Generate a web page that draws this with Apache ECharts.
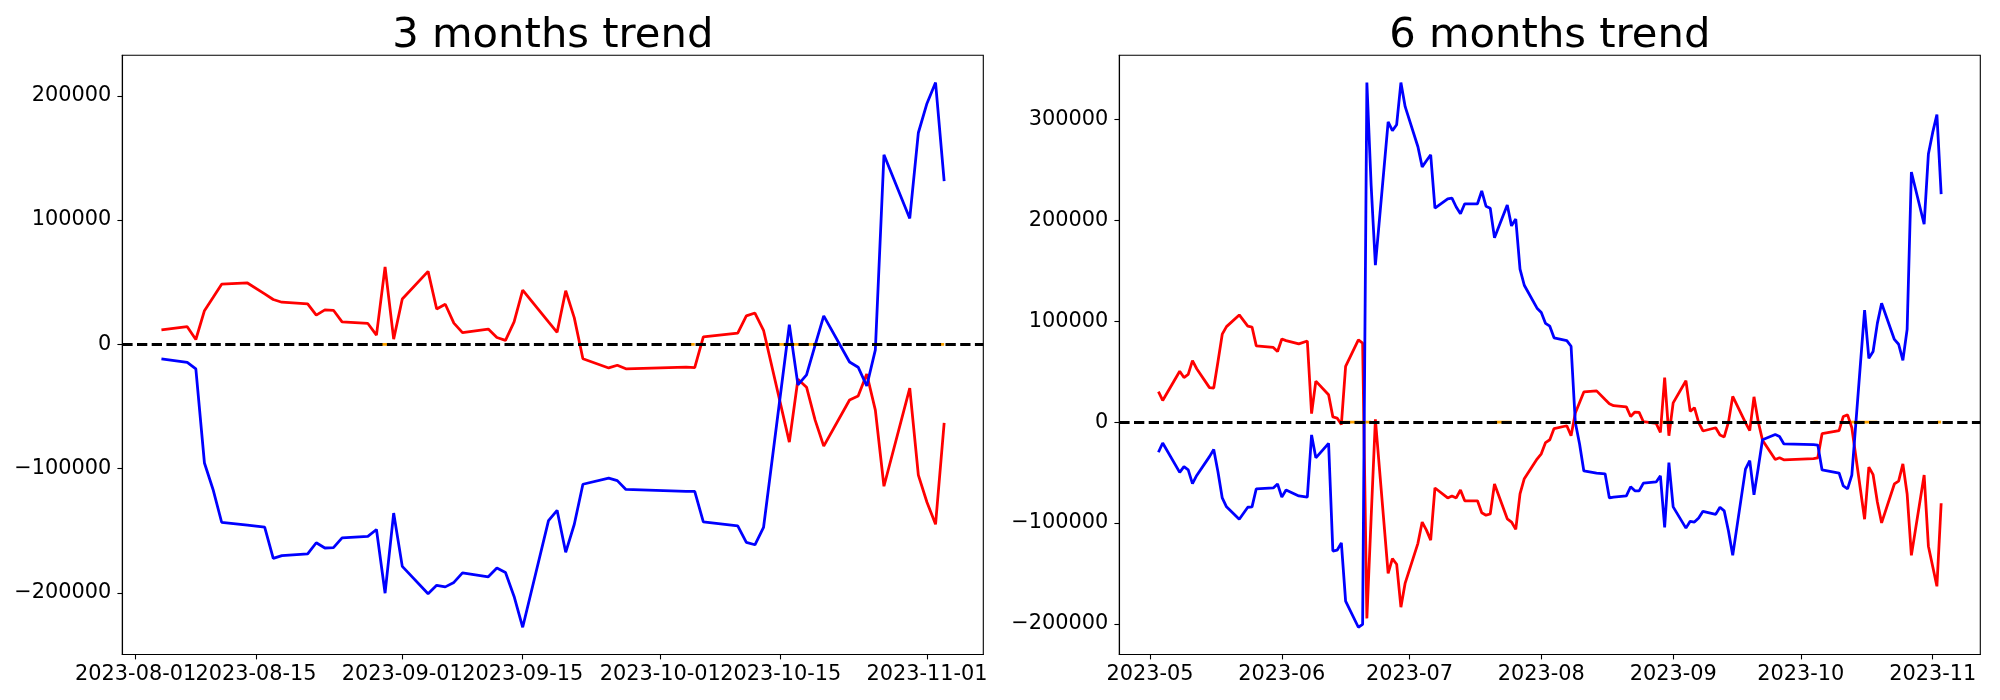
<!DOCTYPE html>
<html>
<head>
<meta charset="utf-8">
<script src="https://cdn.jsdelivr.net/npm/echarts@6/dist/echarts.min.js"></script>
<style>
  html, body { margin: 0; padding: 0; background: #fff; }
  #chart { width: 2000px; height: 700px; }
</style>
</head>
<body>
<div id="chart"></div>
<script>
const N = null;

// ---------- 3 months trend ----------
const dates3 = ['2023-08-04','2023-08-07','2023-08-08','2023-08-09','2023-08-10','2023-08-11','2023-08-14','2023-08-16','2023-08-17','2023-08-18','2023-08-21','2023-08-22','2023-08-23','2023-08-24','2023-08-25','2023-08-28','2023-08-29','2023-08-30','2023-08-31',
  '2023-09-01','2023-09-04','2023-09-05','2023-09-06','2023-09-07','2023-09-08','2023-09-11','2023-09-12','2023-09-13','2023-09-14','2023-09-15','2023-09-18','2023-09-19','2023-09-20','2023-09-21','2023-09-22','2023-09-25','2023-09-26','2023-09-27',
  '2023-10-04','2023-10-05','2023-10-06','2023-10-10','2023-10-11','2023-10-12','2023-10-13','2023-10-16','2023-10-17','2023-10-18','2023-10-19','2023-10-20','2023-10-23','2023-10-24','2023-10-25','2023-10-26','2023-10-27','2023-10-30','2023-10-31',
  '2023-11-01','2023-11-02','2023-11-03'];
const red3 = [11600,14200,3900,27100,37700,48400,49400,40600,36100,33900,32600,23500,27700,27400,18100,16800,7400,62300,4200,
  36500,58700,28400,32300,17100,9400,12300,5500,3200,18100,43600,18100,9700,43200,21300,-11600,-19000,-16800,-19700,
  -18400,-18700,6100,9000,22900,25200,11300,-78700,-28100,-34500,-61000,-81900,-44800,-41600,-23900,-52900,-114200,-35200,-105200,
  -127100,-144800,-63200];
const blue3 = [-11600,-14500,-19700,-95500,-116800,-143200,-145500,-147100,-172300,-170000,-168700,-159700,-163900,-163600,-155800,-154500,-149000,-200300,-135800,
  -178700,-200700,-193900,-195200,-191600,-183900,-187100,-180000,-183600,-202900,-227700,-141900,-133600,-167400,-144800,-112600,-107700,-109700,-116800,
  -118400,-118400,-142900,-146100,-159400,-161300,-147400,15800,-32600,-24500,-600,22900,-14200,-18400,-33500,-4500,152600,101300,170300,
  193900,210700,131300];
const orange3 = [N,N,N,N,N,N,N,N,N,N,N,N,N,N,N,N,0,0,0,
  N,N,N,N,N,N,N,N,N,N,N,N,N,N,N,N,N,N,N,
  0,0,N,N,N,0,0,0,0,0,0,N,N,N,N,N,N,N,N,
  N,0,0];
const xTicks3 = ['2023-08-01','2023-08-15','2023-09-01','2023-09-15','2023-10-01','2023-10-15','2023-11-01'];
const yTicks3 = [-200000,-100000,0,100000,200000];

// ---------- 6 months trend ----------
const dates6 = ['2023-05-03','2023-05-04','2023-05-08','2023-05-09','2023-05-10','2023-05-11','2023-05-12','2023-05-15','2023-05-16','2023-05-17','2023-05-18','2023-05-19','2023-05-22','2023-05-24','2023-05-25','2023-05-26','2023-05-30','2023-05-31',
  '2023-06-01','2023-06-02','2023-06-05','2023-06-07','2023-06-08','2023-06-09','2023-06-12','2023-06-13','2023-06-14','2023-06-15','2023-06-16','2023-06-19','2023-06-20','2023-06-21','2023-06-22','2023-06-23','2023-06-26','2023-06-27','2023-06-28','2023-06-29','2023-06-30',
  '2023-07-03','2023-07-04','2023-07-05','2023-07-06','2023-07-07','2023-07-10','2023-07-11','2023-07-12','2023-07-13','2023-07-14','2023-07-17','2023-07-18','2023-07-19','2023-07-20','2023-07-21','2023-07-24','2023-07-25','2023-07-26','2023-07-27','2023-07-28','2023-07-31',
  '2023-08-01','2023-08-02','2023-08-03','2023-08-04','2023-08-07','2023-08-08','2023-08-09','2023-08-10','2023-08-11','2023-08-14','2023-08-16','2023-08-17','2023-08-18','2023-08-21','2023-08-22','2023-08-23','2023-08-24','2023-08-25','2023-08-28','2023-08-29','2023-08-30','2023-08-31',
  '2023-09-01','2023-09-04','2023-09-05','2023-09-06','2023-09-07','2023-09-08','2023-09-11','2023-09-12','2023-09-13','2023-09-14','2023-09-15','2023-09-18','2023-09-19','2023-09-20','2023-09-21','2023-09-22','2023-09-25','2023-09-26','2023-09-27',
  '2023-10-04','2023-10-05','2023-10-06','2023-10-10','2023-10-11','2023-10-12','2023-10-13','2023-10-16','2023-10-17','2023-10-18','2023-10-19','2023-10-20','2023-10-23','2023-10-24','2023-10-25','2023-10-26','2023-10-27','2023-10-30','2023-10-31',
  '2023-11-01','2023-11-02','2023-11-03'];
const red6 = [30200,21500,50500,44200,47400,60900,52900,34200,33800,60100,87200,94700,106300,95100,94300,75600,74000,70000,
  82400,80800,77600,80400,8400,40600,27100,5200,4000,-2400,55300,81600,78400,-194600,-95100,2800,-150000,-135300,-140900,-183500,-159600,
  -120200,-99100,-107100,-117000,-65300,-75200,-73200,-75200,-67300,-78000,-78000,-89900,-92300,-91100,-61300,-95900,-99100,-106300,-71200,-56100,-36600,
  -31400,-20300,-17500,-6400,-3600,-13500,9000,19500,29900,31000,22500,18300,16300,15100,5600,10000,9600,400,-1200,-10300,44200,-13500,
  19100,41000,10700,14300,-400,-8800,-5600,-12700,-14700,0,25500,-500,-8400,25100,400,-17900,-37000,-35400,-37400,
  -36200,-35400,-11500,-8400,5600,7200,-5600,-96300,-44600,-52100,-79200,-99900,-61300,-58500,-41400,-71200,-132100,-52500,-123000,
  -142900,-162800,-80400];
const blue6 = [-29900,-20700,-49800,-44200,-47400,-60900,-52900,-34200,-27100,-49400,-75200,-84000,-96300,-84400,-84000,-66100,-65300,-61300,
  -74400,-67300,-73200,-74400,-12700,-35400,-21100,-127800,-127000,-119800,-177500,-203400,-200600,336700,235000,155600,297700,289000,294900,336700,312800,
  273000,253100,259100,265100,212100,221300,222100,213300,206600,216500,216500,229200,214100,212100,182700,215300,194600,201400,151600,135700,113000,
  108700,97900,95100,83600,80800,75200,-400,-21700,-48400,-50500,-51300,-75200,-74400,-73200,-64100,-68100,-68100,-60500,-59300,-53300,-104300,-40200,
  -84000,-105100,-98300,-99100,-95100,-88400,-91500,-84400,-88000,-108000,-132100,-46600,-38200,-72000,-45400,-17500,-12300,-14300,-21500,
  -22300,-22700,-47400,-50500,-63300,-66100,-52500,111000,63300,70000,97900,117800,82000,77200,61300,91900,248000,196200,265900,
  287000,304900,226100];
const orange6 = [N,N,N,N,N,N,N,N,N,N,N,N,N,N,N,N,N,N,
  N,N,N,N,N,N,N,N,N,0,0,0,0,0,0,N,0,0,N,N,N,
  N,N,N,N,N,N,N,N,N,N,N,N,N,N,0,0,0,N,N,N,N,
  N,N,N,N,N,N,N,N,N,N,N,N,N,N,N,N,N,N,N,0,0,0,
  N,N,N,N,N,N,N,N,N,N,N,N,N,N,N,N,N,N,N,
  0,0,N,N,N,0,0,0,0,0,0,N,N,N,N,N,N,N,N,
  N,0,0];
const xTicks6 = ['2023-05-01','2023-06-01','2023-07-01','2023-08-01','2023-09-01','2023-10-01','2023-11-01'];
const yTicks6 = [-200000,-100000,0,100000,200000,300000];

const titles = ['3 months trend', '6 months trend'];

// ---------- helpers ----------
function ts(s) { const p = s.split('-').map(Number); return new Date(p[0], p[1] - 1, p[2]).getTime(); }
function pad2(n) { return (n < 10 ? '0' : '') + n; }
function fmtDay(v) { const d = new Date(v); return d.getFullYear() + '-' + pad2(d.getMonth() + 1) + '-' + pad2(d.getDate()); }
function fmtMonth(v) { const d = new Date(v); return d.getFullYear() + '-' + pad2(d.getMonth() + 1); }
function fmtNum(v) { return String(Math.round(v)).replace('-', '\u2212'); }

const FONT = 'DejaVu Sans';
const TICK_FS = 20.83;
const LW = 2.78;
const PLOT_TOP = 55.3, PLOT_H = 599.2;
const grids = [
  { left: 122.3, top: PLOT_TOP, width: 861.0, height: PLOT_H },
  { left: 1119.3, top: PLOT_TOP, width: 861.0, height: PLOT_H }
];

function xRange(dates) {
  const a = ts(dates[0]), b = ts(dates[dates.length - 1]), m = (b - a) * 0.05;
  return [a - m, b + m];
}
function yRange(r, b) {
  const all = r.concat(b, [0]);
  const lo = Math.min.apply(null, all), hi = Math.max.apply(null, all), m = (hi - lo) * 0.05;
  return [lo - m, hi + m];
}

const panels = [
  { dates: dates3, red: red3, blue: blue3, orange: orange3, xt: xTicks3, yt: yTicks3, fmt: fmtDay },
  { dates: dates6, red: red6, blue: blue6, orange: orange6, xt: xTicks6, yt: yTicks6, fmt: fmtMonth }
];

const option = {
  backgroundColor: '#ffffff',
  animation: false,
  title: [],
  grid: [],
  xAxis: [],
  yAxis: [],
  series: []
};

const labelStyle = { fontFamily: FONT, fontSize: TICK_FS, color: '#000' };
const extraXAxes = [];

panels.forEach(function (p, i) {
  const g = grids[i];
  option.grid.push({
    left: g.left, top: g.top, width: g.width, height: g.height,
    show: true, borderColor: '#000', borderWidth: 1.1, backgroundColor: 'transparent'
  });
  option.title.push({
    text: titles[i],
    left: g.left + g.width / 2, top: 15, padding: 0,
    textAlign: 'center',
    textStyle: { fontFamily: FONT, fontSize: 41.7, fontWeight: 'normal', color: '#000' }
  });
  const xr = xRange(p.dates), yr = yRange(p.red, p.blue);
  const xtv = p.xt.map(ts);
  // main x axis: line, all ticks, labels except the first one
  option.xAxis.push({
    type: 'value', gridIndex: i, min: xr[0], max: xr[1], scale: true, position: 'bottom',
    axisLine: { show: true, onZero: false, lineStyle: { color: '#000', width: 1.1 } },
    axisTick: { show: true, customValues: xtv, length: 4.9, lineStyle: { color: '#000', width: 1.1 } },
    axisLabel: Object.assign({ show: true, customValues: xtv.slice(1), formatter: p.fmt, margin: 10,
      hideOverlap: false }, labelStyle),
    splitLine: { show: false }
  });
  // helper x axis carrying only the first tick label (so overlapping labels are all kept)
  extraXAxes.push({
    type: 'value', gridIndex: i, min: xr[0], max: xr[1], scale: true, position: 'bottom', offset: 0,
    axisLine: { show: false, onZero: false },
    axisTick: { show: false },
    axisLabel: Object.assign({ show: true, customValues: xtv.slice(0, 1), formatter: p.fmt, margin: 10,
      hideOverlap: false }, labelStyle),
    splitLine: { show: false }
  });
  option.yAxis.push({
    type: 'value', gridIndex: i, min: yr[0], max: yr[1], scale: true,
    axisLine: { show: true, onZero: false, lineStyle: { color: '#000', width: 1.1 } },
    axisTick: { show: true, customValues: p.yt, length: 4.9, lineStyle: { color: '#000', width: 1.1 } },
    axisLabel: Object.assign({ show: true, customValues: p.yt, formatter: fmtNum, margin: 11,
      hideOverlap: false }, labelStyle),
    splitLine: { show: false }
  });
  const mk = function (vals) { return p.dates.map(function (d, k) { return [ts(d), vals[k]]; }); };
  option.series.push({
    type: 'line', xAxisIndex: i, yAxisIndex: i, data: mk(p.orange),
    showSymbol: false, symbol: 'none', connectNulls: false, silent: true,
    lineStyle: { color: '#ffa500', width: LW }, z: 2
  });
  option.series.push({
    type: 'line', xAxisIndex: i, yAxisIndex: i, data: mk(p.red),
    showSymbol: false, symbol: 'none', silent: true,
    lineStyle: { color: '#ff0000', width: LW }, z: 3
  });
  option.series.push({
    type: 'line', xAxisIndex: i, yAxisIndex: i, data: mk(p.blue),
    showSymbol: false, symbol: 'none', silent: true,
    lineStyle: { color: '#0000ff', width: LW }, z: 4,
    markLine: {
      silent: true, symbol: 'none', animation: false,
      label: { show: false },
      lineStyle: { color: '#000', type: [10.3, 4.4], width: LW },
      data: [{ yAxis: 0 }]
    }
  });
});
option.xAxis = option.xAxis.concat(extraXAxes);

const chart = echarts.init(document.getElementById('chart'), null, { renderer: 'canvas', width: 2000, height: 700 });
chart.setOption(option);
</script>
</body>
</html>
